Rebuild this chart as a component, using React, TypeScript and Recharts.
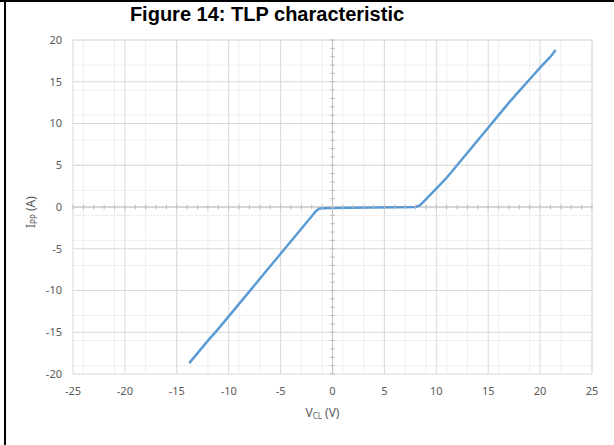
import React from 'react';
import {
  ComposedChart,
  Line,
  Scatter,
  XAxis,
  YAxis,
  CartesianGrid,
  ReferenceLine,
} from 'recharts';

// TLP curve (V_CL in volts, I_PP in amps)
const vcl = [
  -13.8, -13, -12, -11, -10, -9, -8, -7, -6, -5, -4, -3, -2, -1.6, -1.3, -1, 0, 2, 4, 6, 8, 8.4,
  9, 10, 11, 12, 13, 14, 15, 16, 17, 18, 19, 20, 21, 21.5,
];
const ipp = [
  -18.7, -17.5, -16.0, -14.6, -13.1, -11.6, -10.1, -8.6, -7.1, -5.6, -4.1, -2.6, -1.1, -0.5, -0.2,
  -0.15, -0.12, -0.1, -0.07, -0.04, 0.0, 0.2, 0.9, 2.2, 3.5, 5.0, 6.5, 8.0, 9.5, 11.0, 12.5, 13.9,
  15.3, 16.7, 18.0, 18.8,
];

const xTicks = [-25, -20, -15, -10, -5, 0, 5, 10, 15, 20, 25];
const yTicks = [-20, -15, -10, -5, 0, 5, 10, 15, 20];

const range = (a: number, b: number) => Array.from({ length: b - a + 1 }, (_, i) => a + i);
const xMinor = range(-25, 25);
const yMinor = range(-20, 20);

const curve = vcl.map((v, i) => ({ v, i: ipp[i] }));
const xAxisMarks = xMinor.map((v) => ({ v, i: 0 }));
const yAxisMarks = yMinor.map((i) => ({ v: 0, i }));

const FONT = '"Noto Sans", sans-serif';
const tickStyle = { fontSize: 11, fill: '#595959', fontFamily: FONT };

const VTick = (p: any) => (
  <line x1={p.cx} x2={p.cx} y1={p.cy - 2.5} y2={p.cy + 2.5} stroke="#bfbfbf" strokeWidth={1} />
);
const HTick = (p: any) => (
  <line x1={p.cx - 2.5} x2={p.cx + 2.5} y1={p.cy} y2={p.cy} stroke="#bfbfbf" strokeWidth={1} />
);

export default function App() {
  return (
    <div
      style={{
        position: 'absolute',
        left: 0,
        top: 0,
        width: 614,
        height: 445,
        background: '#fff',
        overflow: 'hidden',
      }}
    >
      <div style={{ position: 'absolute', left: 0, top: 0, width: 614, height: 2, background: '#000' }} />
      <div style={{ position: 'absolute', left: 4, top: 0, width: 2, height: 445, background: '#000' }} />
      <div
        style={{
          position: 'absolute',
          left: 0,
          top: 2,
          width: 534,
          textAlign: 'center',
          fontFamily: '"Liberation Sans", Arial, sans-serif',
          fontWeight: 'bold',
          fontSize: 20,
          lineHeight: '24px',
          color: '#000',
        }}
      >
        Figure 14: TLP characteristic
      </div>
      <div style={{ position: 'absolute', left: 0, top: 0 }}>
        <ComposedChart width={614} height={445} margin={{ top: 40, right: 22, bottom: 0, left: 0 }}>
          <CartesianGrid
            stroke="#efefef"
            strokeWidth={1}
            verticalValues={xMinor}
            horizontalValues={yMinor}
          />
          <CartesianGrid
            stroke="#d9d9d9"
            strokeWidth={1}
            verticalValues={xTicks}
            horizontalValues={yTicks}
          />
          <XAxis
            type="number"
            dataKey="v"
            domain={[-25, 25]}
            ticks={xTicks}
            axisLine={false}
            tickLine={false}
            tickSize={0}
            tickMargin={13}
            height={71}
            tick={tickStyle}
            label={(props: any) => {
              const vb = props.viewBox;
              const cx = vb.x + vb.width / 2 - 27;
              return (
                <text x={cx} y={417} fill="#595959" fontSize={12} style={{ fontFamily: FONT }}>
                  V
                  <tspan fontSize={8} dy={2}>
                    CL
                  </tspan>
                  <tspan dy={-2}> (V)</tspan>
                </text>
              );
            }}
          />
          <YAxis
            type="number"
            dataKey="i"
            domain={[-20, 20]}
            ticks={yTicks}
            axisLine={false}
            tickLine={false}
            tickSize={0}
            tickMargin={11}
            width={73}
            tick={tickStyle}
            label={() => (
              <text
                x={0}
                y={0}
                transform="translate(35, 228) rotate(-90)"
                fill="#595959"
                fontSize={12}
                style={{ fontFamily: FONT }}
              >
                I
                <tspan fontSize={8} dy={2}>
                  PP
                </tspan>
                <tspan dy={-2}> (A)</tspan>
              </text>
            )}
          />
          <ReferenceLine x={0} stroke="#bfbfbf" strokeWidth={1} />
          <ReferenceLine y={0} stroke="#bfbfbf" strokeWidth={1} />
          <Scatter data={xAxisMarks} shape={VTick} isAnimationActive={false} />
          <Scatter data={yAxisMarks} shape={HTick} isAnimationActive={false} />
          <Line
            data={curve}
            dataKey="i"
            type="linear"
            stroke="#5b9bd5"
            strokeWidth={2.5}
            dot={false}
            isAnimationActive={false}
          />
        </ComposedChart>
      </div>
    </div>
  );
}
